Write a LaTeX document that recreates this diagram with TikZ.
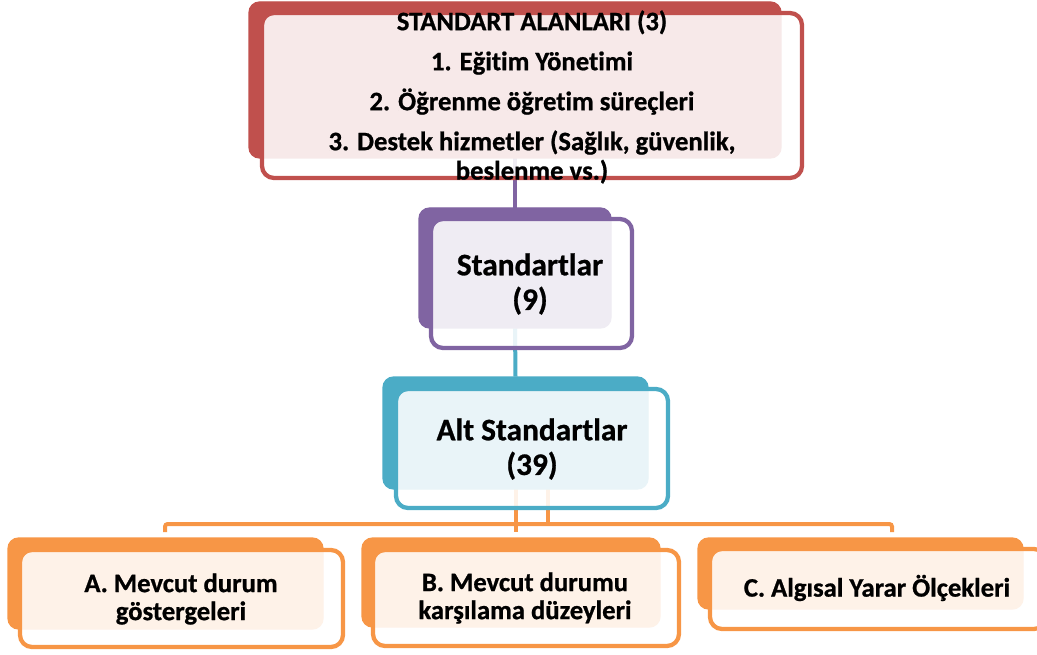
\documentclass[tikz,border=0pt]{standalone}
\usepackage{fontspec}
\setmainfont{Carlito}[Ligatures=NoCommon, BoldFeatures={FakeBold=0.8}]
\usetikzlibrary{fit}
\definecolor{cred}{HTML}{C0504D}
\definecolor{cpurple}{HTML}{8064A2}
\definecolor{cblue}{HTML}{4BACC6}
\definecolor{corange}{HTML}{F79646}
\begin{document}
\begin{tikzpicture}[x=0.75pt,y=-0.75pt,
  backbox/.style={draw=#1, fill=#1, line width=1pt, rounded corners=8pt, inner sep=0pt},
  frontbox/.style={draw=#1, fill=white, fill opacity=0.88, draw opacity=1, line width=3.2pt, rounded corners=9pt, inner sep=0pt},
  conn/.style={draw=#1, line width=3pt},
  lbl/.style={font=\bfseries\fontsize{20}{21}\selectfont, align=center, text=black, inner sep=0pt},
  biglbl/.style={font=\bfseries\fontsize{23.5}{26}\selectfont, align=center, text=black, inner sep=0pt}]
\clip (0,0) rectangle (1037,655);
% back box corners
\path (249,2) coordinate (rb1) (781,158) coordinate (rb2)
      (419,208) coordinate (pb1) (611,328) coordinate (pb2)
      (383,377) coordinate (bb1) (648,489) coordinate (bb2)
      (8,538) coordinate (ab1) (323,629) coordinate (ab2)
      (362,538) coordinate (b2b1) (660,627) coordinate (b2b2)
      (698,538) coordinate (cb1) (1023,609) coordinate (cb2);
\node[inner sep=0pt, fit=(rb1)(rb2)] (rb) {};
\node[inner sep=0pt, fit=(pb1)(pb2)] (pb) {};
\node[inner sep=0pt, fit=(bb1)(bb2)] (bb) {};
\coordinate (jA) at (165,532);
\coordinate (jC) at (892,532);
\coordinate (bus) at (548,524);
% connectors
\draw[conn=cpurple] (rb.south) -- (pb.north);
\draw[conn=cblue] (pb.south) -- (bb.north);
\draw[conn=corange] (bb.south -| bus) -- (bus);
\draw[conn=corange, rounded corners=2pt] (jA) -- (jA |- bus) -- (jC |- bus) -- (jC);
\draw[conn=corange] (bb.south) -- (bb.south |- jA);
% boxes
\node[backbox=cred, fit=(rb1)(rb2)] {};
\node[frontbox=cred, fit={(262,13) (802,178)}] (rf) {};
\node[backbox=cpurple, fit=(pb1)(pb2)] {};
\node[frontbox=cpurple, fit={(431,219) (632,348)}] (pf) {};
\node[backbox=cblue, fit=(bb1)(bb2)] {};
\node[frontbox=cblue, fit={(396,389) (668,508)}] (bf) {};
\node[backbox=corange, fit=(ab1)(ab2)] (ab) {};
\node[frontbox=corange, fit={(20,550) (343,647)}] (af) {};
\node[backbox=corange, fit=(b2b1)(b2b2)] (b2b) {};
\node[frontbox=corange, fit={(373,550) (679,646)}] (b2f) {};
\node[backbox=corange, fit=(cb1)(cb2)] (cb) {};
\node[frontbox=corange, fit={(710,549) (1046,629)}] (cf) {};
% texts
\node[lbl, font=\bfseries\fontsize{20}{22}\selectfont] (rt) at (532,97) {STANDART ALANLARI (3)\\[8pt] 1. Eğitim Yönetimi\\[8pt] 2. Öğrenme öğretim süreçleri\\[8pt] 3. Destek hizmetler (Sağlık, güvenlik,\\ beslenme vs.)};
\node[biglbl] (pt) at (530,284) {Standartlar\\(9)};
\node[biglbl] (bt) at (532,449) {Alt Standartlar\\(39)};
\node[lbl] (at) at (181,599) {A. Mevcut durum\\göstergeleri};
\node[lbl] (b2t) at (525,598) {B. Mevcut durumu\\karşılama düzeyleri};
\node[lbl] (ct) at (877,588) {C. Algısal Yarar Ölçekleri};
\end{tikzpicture}
\end{document}
